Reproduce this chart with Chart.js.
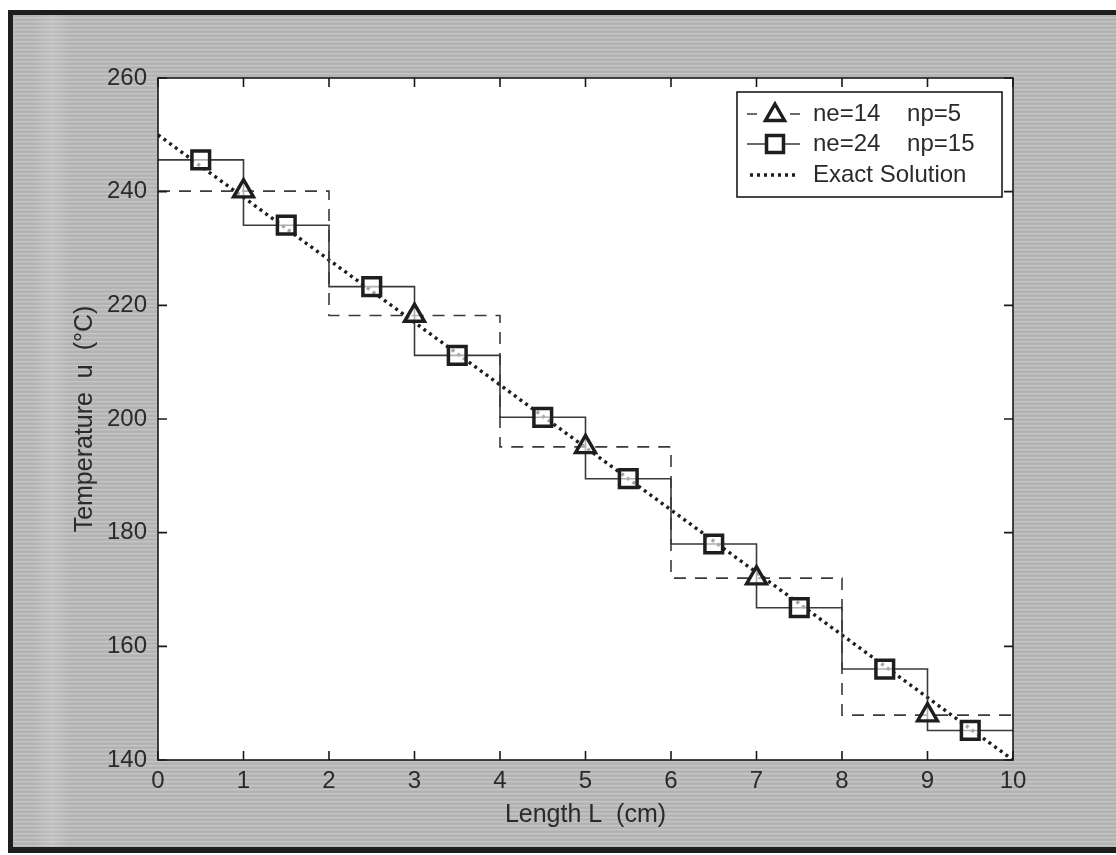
<!DOCTYPE html>
<html><head><meta charset="utf-8">
<script src="https://cdn.jsdelivr.net/npm/chart.js@4/dist/chart.umd.min.js"></script>
<style>
html,body{margin:0;padding:0;background:#fff;width:1116px;height:855px;overflow:hidden}
#frame{position:absolute;left:8px;top:10px;width:1103px;height:832px;
border-left:5px solid #1e1e1e;border-top:5px solid #1e1e1e;border-bottom:6px solid #1e1e1e;
background:
 linear-gradient(to right, rgba(255,255,255,0) 22px, rgba(255,255,255,0.16) 38px, rgba(255,255,255,0) 56px),
 repeating-linear-gradient(to bottom,#b3b3b3 0px,#b3b3b3 2px,#c6c6c6 2px,#c6c6c6 3px,#b9b9b9 3px,#b9b9b9 4px);}
#c{position:absolute;left:0;top:0}
</style></head>
<body>
<div id="frame"></div>
<canvas id="c" width="1116" height="855"></canvas>
<script>
// ---- data ----
const xLimits = [0, 10];
const yLimits = [140, 260];
const xStep = 1;
const yStep = 20;

const seriesLabels = ['ne=14    np=5', 'ne=24    np=15', 'Exact Solution'];

// coarse mesh (triangles, dashed step)
const coarseX = [1, 3, 5, 7, 9];
const coarseY = [240.1, 218.2, 195.1, 172.0, 147.9];

// fine mesh (squares, solid step)
const fineX = [0.5, 1.5, 2.5, 3.5, 4.5, 5.5, 6.5, 7.5, 8.5, 9.5];
const fineY = [245.6, 234.1, 223.3, 211.2, 200.3, 189.5, 178.0, 166.8, 156.0, 145.2];

// exact solution (dotted straight line)
const exactX = [0, 10];
const exactY = [250, 140];

const axisTitleX = 'Length L  (cm)';
const axisTitleY = 'Temperature  u  (°C)';

// ---- build library structures ----
function stepData(xs, ys) {
  return [{x: xLimits[0], y: ys[0]}]
    .concat(xs.map((x, i) => ({x: x, y: ys[i]})))
    .concat([{x: xLimits[1], y: ys[ys.length - 1]}]);
}
function stepRadius(xs, r) {
  return [0].concat(xs.map(() => r)).concat([0]);
}

const FONT = '"Liberation Sans", Arial, Helvetica, sans-serif';
const TXT = '#2a2a2a';

const frameTicks = {
  id: 'frameTicks',
  beforeDraw(chart) {
    const {ctx, chartArea: a} = chart;
    ctx.save();
    ctx.fillStyle = '#ffffff';
    ctx.fillRect(a.left, a.top, a.right - a.left, a.bottom - a.top);
    ctx.restore();
  },
  afterDatasetsDraw(chart) {
    const {ctx, chartArea: a, scales} = chart;
    const xs = scales.x, ys = scales.y;
    ctx.save();
    ctx.setLineDash([]);
    ctx.strokeStyle = '#1a1a1a';
    ctx.lineWidth = 1.6;
    ctx.strokeRect(a.left, a.top, a.right - a.left, a.bottom - a.top);
    const L = 9;
    ctx.beginPath();
    xs.ticks.forEach(t => {
      const p = xs.getPixelForValue(t.value);
      ctx.moveTo(p, a.bottom); ctx.lineTo(p, a.bottom - L);
      ctx.moveTo(p, a.top); ctx.lineTo(p, a.top + L);
    });
    ys.ticks.forEach(t => {
      const p = ys.getPixelForValue(t.value);
      ctx.moveTo(a.left, p); ctx.lineTo(a.left + L, p);
      ctx.moveTo(a.right, p); ctx.lineTo(a.right - L, p);
    });
    ctx.stroke();
    ctx.restore();
  }
};

const boxLegend = {
  id: 'boxLegend',
  afterDraw(chart) {
    const ctx = chart.ctx;
    const bx = 737, by = 92, bw = 265, bh = 105;
    const rows = [114, 144, 175];
    ctx.save();
    ctx.fillStyle = '#ffffff';
    ctx.fillRect(bx, by, bw, bh);
    ctx.setLineDash([]);
    ctx.lineWidth = 1.6;
    ctx.strokeStyle = '#1a1a1a';
    ctx.strokeRect(bx, by, bw, bh);
    chart.data.datasets.forEach((ds, i) => {
      const y = rows[i];
      ctx.save();
      ctx.strokeStyle = ds.borderColor;
      ctx.lineWidth = ds.borderWidth;
      ctx.beginPath();
      if (i === 0) {
        ctx.setLineDash([]);
        ctx.moveTo(747, y); ctx.lineTo(757, y);
        ctx.moveTo(790, y); ctx.lineTo(800, y);
      } else if (i === 1) {
        ctx.setLineDash([]);
        ctx.moveTo(747, y); ctx.lineTo(800, y);
      } else {
        ctx.setLineDash(ds.borderDash);
        ctx.moveTo(750, y); ctx.lineTo(797, y);
      }
      ctx.stroke();
      ctx.restore();
      if (ds.pointStyle && i < 2) {
        ctx.save();
        ctx.setLineDash([]);
        ctx.fillStyle = '#ffffff';
        ctx.strokeStyle = ds.pointBorderColor;
        ctx.lineWidth = ds.pointBorderWidth;
        Chart.helpers.drawPoint(ctx, {pointStyle: ds.pointStyle, radius: ds.legendRadius, rotation: 0, borderWidth: ds.pointBorderWidth}, 775, i === 0 ? y + 1 : y);
        ctx.restore();
      }
      ctx.fillStyle = TXT;
      ctx.font = '24px ' + FONT;
      ctx.textBaseline = 'middle';
      ctx.textAlign = 'left';
      ctx.fillText(ds.label, 813, y);
    });
    ctx.restore();
  }
};

new Chart(document.getElementById('c'), {
  type: 'line',
  data: {
    datasets: [
      {
        label: seriesLabels[0],
        data: stepData(coarseX, coarseY),
        stepped: 'middle',
        borderColor: '#3a3a3a',
        borderWidth: 1.6,
        borderDash: [12, 9],
        pointStyle: 'triangle',
        pointRadius: stepRadius(coarseX, 11.5),
        legendRadius: 11,
        pointBorderColor: '#1e1e1e',
        pointBorderWidth: 3.4,
        pointBackgroundColor: 'rgba(255,255,255,0.6)',
        fill: false
      },
      {
        label: seriesLabels[1],
        data: stepData(fineX, fineY),
        stepped: 'middle',
        borderColor: '#3a3a3a',
        borderWidth: 1.6,
        pointStyle: 'rect',
        pointRadius: stepRadius(fineX, 12.5),
        legendRadius: 12,
        pointBorderColor: '#1e1e1e',
        pointBorderWidth: 3.5,
        pointBackgroundColor: 'rgba(255,255,255,0.6)',
        fill: false
      },
      {
        label: seriesLabels[2],
        data: exactX.map((x, i) => ({x: x, y: exactY[i]})),
        borderColor: '#1e1e1e',
        borderWidth: 3.4,
        borderDash: [3, 4],
        borderCapStyle: 'butt',
        pointRadius: 0,
        fill: false
      }
    ]
  },
  options: {
    responsive: false,
    animation: false,
    devicePixelRatio: 1,
    layout: {padding: {top: 78, right: 103, left: 0, bottom: 0}},
    plugins: {legend: {display: false}, tooltip: {enabled: false}},
    scales: {
      x: {
        type: 'linear',
        min: xLimits[0], max: xLimits[1],
        border: {display: false},
        grid: {display: false, drawTicks: false},
        ticks: {stepSize: xStep, padding: 7, color: TXT, font: {family: FONT, size: 24}, maxRotation: 0},
        title: {display: true, text: axisTitleX, color: TXT, font: {family: FONT, size: 25}, padding: {top: 4, bottom: 25}},
        afterFit(s) { s.height = 95; }
      },
      y: {
        type: 'linear',
        min: yLimits[0], max: yLimits[1],
        border: {display: false},
        grid: {display: false, drawTicks: false},
        ticks: {stepSize: yStep, padding: 11, color: TXT, font: {family: FONT, size: 24}},
        title: {display: true, text: axisTitleY, color: TXT, font: {family: FONT, size: 25}, padding: {top: 70, bottom: 4}},
        afterFit(s) { s.width = 158; }
      }
    }
  },
  plugins: [frameTicks, boxLegend]
});
</script>
</body></html>
